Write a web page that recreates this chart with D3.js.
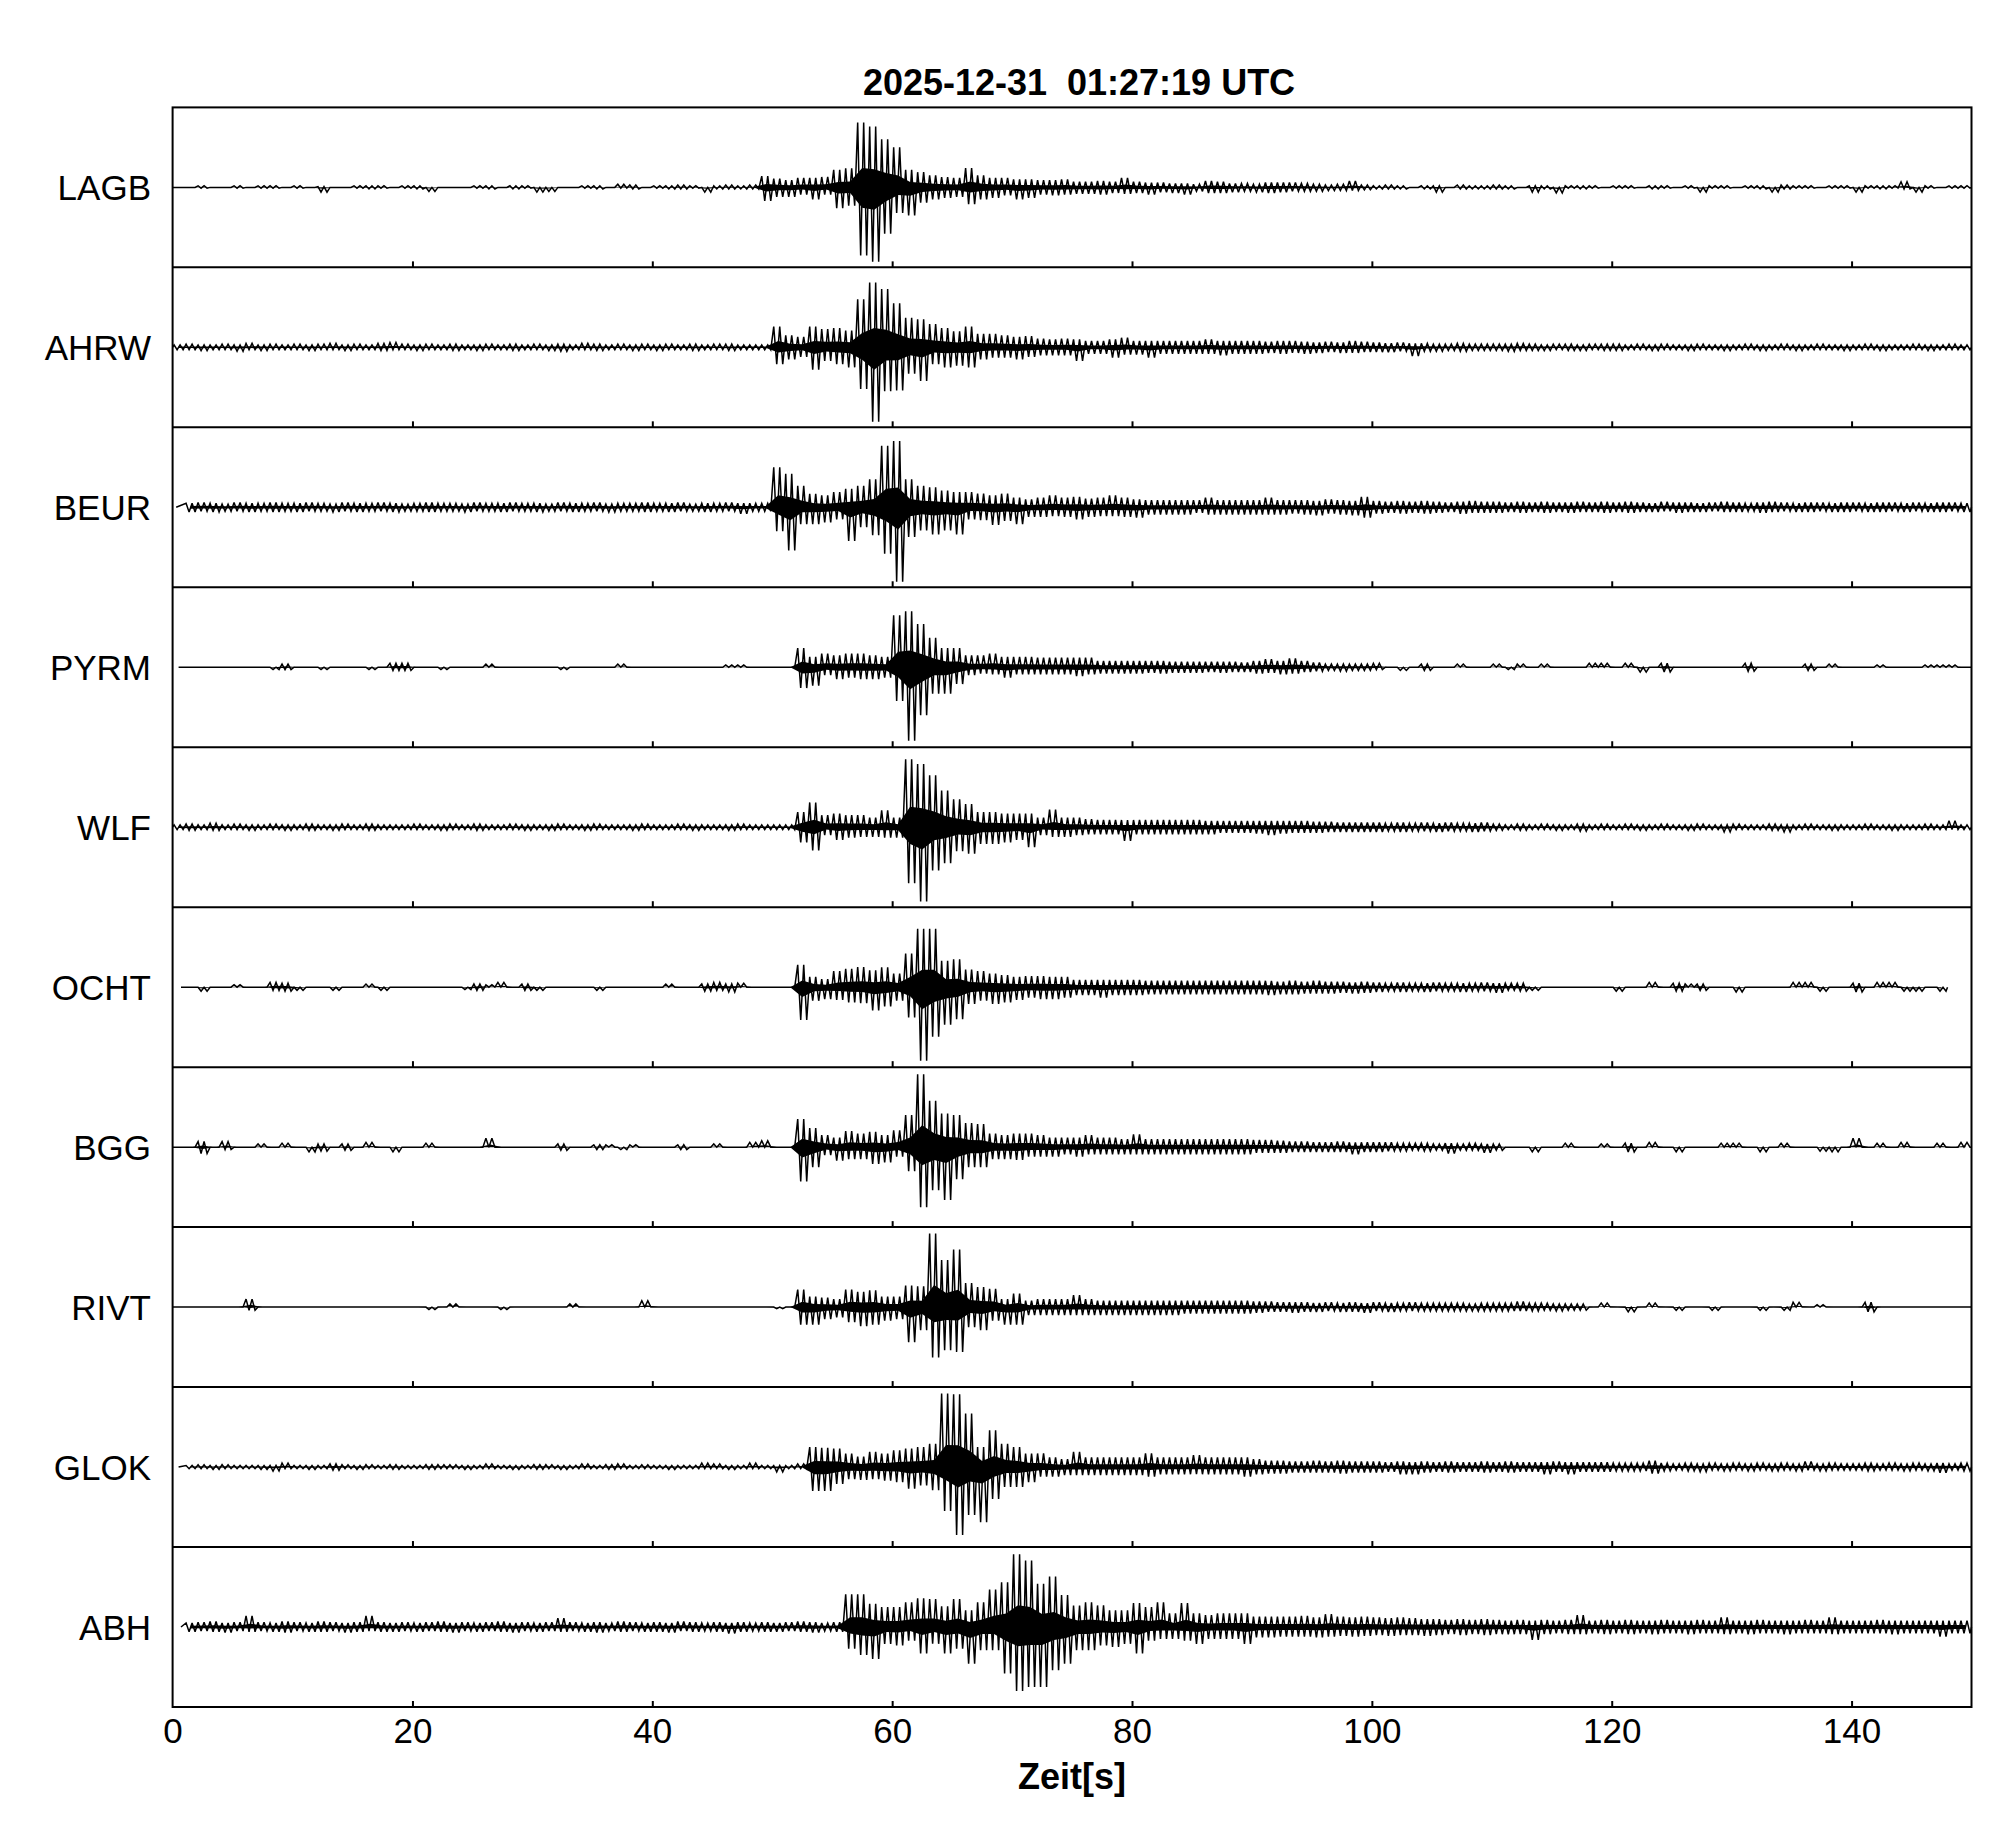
<!DOCTYPE html>
<html>
<head>
<meta charset="utf-8">
<script src="https://cdn.jsdelivr.net/npm/d3@7/dist/d3.min.js"></script>
<style>
html,body{margin:0;padding:0;background:#fff;}
svg{display:block;}
text{font-family:"Liberation Sans",Arial,Helvetica,sans-serif;fill:#000;}
</style>
</head>
<body>
<script>
// ---- data ----
const title = "2025-12-31  01:27:19 UTC";
const xLabel = "Zeit[s]";
const stations = ["LAGB","AHRW","BEUR","PYRM","WLF","OCHT","BGG","RIVT","GLOK","ABH"];
const xTicks = [0,20,40,60,80,100,120,140];
const traceStart = [0,0,0.3,0.5,0,0.7,0,0,0.5,0.7];   // seconds
const traceEnd   = [150,150,150,150,150,148,150,150,150,150];
// per-second peak amplitudes (percent of panel half-height), positive and negative

const LAGB_up = [0,0,2,0,0,2,0,2,2,0, 2,0,1,0,0,2,2,2,0,2, 2,0,0,0,0,2,2,0,2,2, 0,0,0,0,2,2,0,4,3,0,
 2,2,3,2,0,2,3,2,3,14, 11,9,12,12,13,22,24,81,76,60, 50,22,19,15,13,12,24,15,12,12, 10,10,9,9,10,7,7,8,7,12,
 7,6,6,5,5,4,8,7,5,5, 4,6,6,6,5,4,3,4,8,3, 2,3,2,0,2,2,0,3,2,2, 3,2,0,2,2,0,2,2,2,0,
 2,2,0,2,2,0,2,0,2,2, 0,2,2,0,3,2,2,0,2,2, 0,2,2,2,7,0,2,0,2,2];
const LAGB_dn = [0,0,-1,0,0,-1,0,-1,-1,0, -1,0,-6,0,0,-1,-2,-1,0,-1, -2,-5,0,0,0,-1,-2,0,-2,-1, -6,-5,0,0,-1,-2,0,-1,-2,0,
 -1,-2,-2,-1,-6,-2,-2,-2,-2,-17, -12,-12,-9,-15,-9,-26,-23,-85,-93,-58, -32,-35,-19,-15,-13,-12,-21,-15,-13,-10, -15,-13,-9,-10,-9,-8,-8,-9,-7,-8,
 -7,-9,-6,-7,-9,-5,-7,-7,-6,-5, -6,-7,-6,-5,-5,-5,-4,-4,-4,-3, -2,-2,-2,0,-2,-6,0,-2,-2,-2, -2,-2,0,-6,-2,-7,-1,-2,-1,0,
 -1,-1,0,-2,-1,0,-1,-6,-1,-1, 0,-1,-2,-6,-2,-1,-1,0,-1,-1, -6,-1,-2,-1,-2,-6,-1,0,-1,-1];

const AHRW_up = [3,4,3,3,4,3,5,3,4,3, 4,3,4,5,3,4,3,5,6,4, 3,4,3,4,3,3,4,3,4,3, 4,3,4,3,5,4,3,4,3,4,
 3,4,3,4,3,4,4,3,3,3, 26,15,13,26,23,24,21,60,81,73, 55,37,35,29,24,20,26,17,17,15, 13,14,11,10,11,10,8,8,10,12,
 8,8,8,8,8,8,10,8,8,8, 8,7,8,8,7,6,7,6,8,7, 6,5,6,5,5,4,4,5,4,4, 4,4,5,4,3,4,4,3,4,4,
 4,3,4,3,4,3,3,4,3,3, 3,4,3,3,4,3,3,4,3,3, 3,4,3,3,3,4,3,3,4,3];
const AHRW_dn = [-3,-3,-4,-3,-3,-5,-3,-4,-3,-3, -3,-4,-3,-3,-4,-3,-3,-4,-3,-3, -4,-3,-3,-4,-3,-4,-3,-3,-4,-3, -3,-4,-5,-3,-3,-4,-3,-3,-4,-3,
 -4,-3,-3,-4,-3,-3,-4,-3,-3,-3, -21,-15,-12,-28,-17,-21,-25,-52,-93,-55, -54,-33,-42,-21,-25,-23,-25,-15,-13,-13, -15,-12,-10,-10,-10,-17,-8,-8,-13,-9,
 -9,-13,-8,-8,-8,-8,-8,-10,-8,-8, -8,-7,-8,-7,-8,-7,-6,-7,-7,-6, -6,-6,-5,-11,-5,-5,-4,-5,-4,-4, -4,-5,-4,-4,-4,-3,-4,-4,-3,-4,
 -4,-3,-3,-4,-3,-3,-4,-3,-3,-4, -3,-3,-4,-3,-3,-4,-3,-3,-3,-4, -3,-3,-4,-3,-3,-3,-4,-3,-3,-3];

const BEUR_up = [4,5,6,5,4,6,5,5,6,5, 5,6,5,4,6,5,5,6,5,4, 5,6,5,5,4,6,5,5,6,5, 5,4,6,5,5,6,4,5,5,6,
 5,5,6,4,5,5,6,5,5,5, 50,42,27,17,15,19,23,27,35,77, 83,35,27,25,21,19,19,17,15,17, 12,10,12,15,12,13,11,12,15,12,
 10,9,9,9,9,9,12,9,9,9, 9,12,9,9,9,8,10,9,8,13, 8,7,8,7,8,7,6,7,8,7, 7,6,7,6,7,6,6,7,6,7,
 6,7,6,5,7,6,6,5,6,7, 6,5,6,7,6,5,6,6,5,6, 6,5,6,6,5,6,5,6,6,5];
const BEUR_dn = [-5,-6,-5,-6,-5,-5,-6,-5,-6,-5, -6,-5,-5,-6,-5,-6,-5,-5,-6,-5, -5,-6,-5,-5,-6,-5,-5,-6,-5,-5, -6,-5,-5,-6,-5,-5,-6,-5,-5,-6,
 -5,-6,-5,-5,-6,-5,-5,-8,-5,-5, -30,-54,-21,-21,-19,-15,-42,-25,-35,-58, -93,-37,-29,-34,-29,-34,-15,-16,-22,-17, -21,-12,-12,-11,-12,-15,-12,-11,-11,-12,
 -13,-9,-9,-9,-9,-7,-9,-9,-9,-9, -9,-9,-9,-8,-9,-10,-8,-9,-10,-13, -8,-7,-8,-7,-8,-7,-6,-8,-7,-7, -7,-6,-7,-6,-7,-6,-7,-6,-6,-7,
 -6,-7,-6,-6,-5,-7,-6,-6,-5,-6, -6,-5,-7,-6,-5,-6,-6,-5,-6,-6, -5,-6,-6,-5,-6,-5,-6,-6,-5,-6];

const PYRM_up = [0,0,0,0,0,0,0,0,0,4, 0,0,0,0,0,0,0,0,5,5, 0,0,0,0,0,0,4,0,0,0, 0,0,0,0,0,0,0,4,0,0,
 0,0,0,0,0,0,3,3,0,0, 0,0,24,13,17,15,17,17,15,13, 65,70,54,37,24,24,15,15,17,13, 13,13,12,12,12,12,12,8,8,8,
 8,8,8,7,7,7,7,7,7,6, 8,10,8,11,8,6,4,4,4,4, 5,0,0,0,4,0,0,4,0,0, 4,0,4,0,4,0,0,0,5,5,
 0,5,0,0,5,0,0,0,0,0, 0,5,0,0,0,0,4,0,4,0, 0,0,3,0,0,0,3,3,3,0];
const PYRM_dn = [0,0,0,0,0,0,0,0,-3,-3, 0,0,-3,0,0,0,-3,0,-4,-4, 0,0,-3,0,0,0,0,0,0,0, 0,0,-3,0,0,0,0,0,0,0,
 0,0,0,0,0,0,0,0,0,0, 0,0,-26,-23,-10,-15,-13,-15,-15,-13, -42,-92,-60,-33,-33,-21,-10,-8,-9,-13, -9,-9,-9,-9,-9,-11,-9,-8,-8,-8,
 -8,-7,-8,-7,-7,-7,-6,-7,-6,-6, -8,-7,-9,-8,-6,-5,-4,-5,-4,-4, -3,0,-4,0,-4,0,0,0,0,0, 0,-3,0,0,0,0,0,0,0,0,
 0,0,-6,0,-6,0,0,0,0,0, 0,-5,0,0,0,0,-4,0,0,0, 0,0,0,0,0,0,0,0,0,0];

const WLF_up = [3,4,3,5,3,4,3,3,4,3, 3,4,3,3,4,3,4,3,3,3, 4,3,3,4,3,4,3,3,4,3, 3,3,4,3,3,4,3,3,3,4,
 3,3,4,3,3,3,3,4,3,3, 3,3,19,31,15,17,15,15,12,21, 12,85,79,65,46,35,29,19,19,17, 17,17,12,22,12,12,10,9,9,9,
 9,9,9,9,9,9,8,8,8,8, 8,8,8,8,8,7,7,6,6,6, 6,5,6,5,6,5,6,5,5,6, 4,3,4,3,4,3,3,4,3,4,
 3,4,3,3,4,3,3,4,3,3, 4,3,3,4,3,3,4,3,3,3, 3,4,3,3,3,3,4,3,8,3];
const WLF_dn = [-3,-4,-3,-4,-3,-3,-4,-3,-3,-4, -3,-4,-3,-4,-3,-3,-4,-3,-3,-3, -3,-3,-4,-3,-3,-4,-3,-3,-3,-4, -3,-4,-3,-3,-4,-3,-3,-3,-4,-3,
 -3,-3,-3,-4,-3,-3,-4,-3,-3,-3, -3,-3,-19,-29,-10,-16,-13,-12,-12,-13, -13,-70,-93,-54,-45,-30,-33,-21,-21,-19, -16,-25,-10,-12,-12,-10,-9,-9,-9,-17,
 -9,-9,-9,-9,-9,-9,-9,-7,-7,-7, -8,-10,-8,-7,-7,-7,-6,-6,-6,-6, -6,-5,-6,-5,-5,-6,-5,-5,-6,-5, -4,-3,-4,-3,-3,-4,-3,-5,-3,-3,
 -3,-3,-4,-3,-3,-3,-4,-3,-3,-6, -3,-3,-3,-4,-6,-3,-3,-3,-4,-3, -3,-3,-3,-4,-3,-3,-3,-3,-3,-3];

const OCHT_up = [0,0,0,0,0,3,0,0,6,5, 0,0,0,0,0,0,4,0,0,0, 0,0,0,0,0,4,3,6,0,4, 0,0,0,0,0,0,0,0,0,0,
 0,4,0,0,4,6,4,5,0,0, 0,0,28,13,10,20,23,25,21,25, 17,42,73,73,33,35,22,20,17,15, 13,14,14,13,13,9,9,9,9,9,
 9,8,8,8,8,8,8,8,8,8, 8,8,7,8,7,8,7,7,6,7, 6,5,6,5,5,6,5,5,5,6, 5,5,5,0,0,0,0,0,0,0,
 0,0,0,6,0,5,4,4,0,0, 0,0,0,0,0,6,6,0,0,0, 5,0,6,6,0,0,0,0,0,0];
const OCHT_dn = [0,0,-5,0,0,0,0,0,-4,-5, -4,0,0,-4,0,0,0,-4,0,0, 0,0,0,0,-3,-4,0,0,0,-4, -4,0,0,0,0,-4,0,0,0,0,
 0,0,0,0,-5,-4,-6,0,0,0, 0,0,-41,-17,-15,-16,-19,-20,-29,-24, -17,-38,-92,-62,-47,-40,-21,-17,-21,-19, -16,-13,-15,-15,-13,-10,-10,-13,-10,-10,
 -10,-9,-9,-9,-9,-9,-9,-9,-9,-9, -9,-10,-9,-9,-8,-8,-8,-7,-8,-7, -6,-5,-6,-5,-6,-5,-5,-6,-5,-5, -7,-4,-5,-4,0,0,0,0,0,0,
 -5,0,0,0,0,-5,0,-4,0,0, -6,0,0,0,0,0,0,-5,0,0, -6,0,0,0,-5,-5,0,-5,0,0];

const BGG_up = [0,0,7,0,7,0,0,4,0,5, 0,0,4,0,4,0,6,0,0,0, 0,5,0,0,0,0,11,0,0,0, 0,0,4,0,0,3,3,0,3,0,
 0,0,3,0,0,4,0,0,6,8, 0,0,35,24,15,12,20,17,19,15, 21,40,91,58,42,40,30,29,17,15, 17,17,15,12,12,12,15,12,12,10,
 16,10,10,10,10,10,10,10,10,10, 9,9,8,7,7,6,6,7,6,6, 6,6,5,5,5,4,5,4,5,4, 4,0,0,0,0,0,5,0,0,4,
 0,5,0,6,0,0,0,0,0,5, 5,0,0,0,5,0,0,0,0,0, 11,0,5,0,6,0,0,5,0,6];
const BGG_dn = [0,0,-8,0,-3,0,0,0,0,0, 0,-6,-5,0,-4,0,0,0,-6,0, 0,0,0,0,0,0,0,0,0,0, 0,0,-4,0,0,-3,0,-3,0,0,
 0,0,-3,0,0,0,0,0,0,0, 0,0,-43,-25,-10,-17,-15,-15,-21,-19, -12,-30,-75,-54,-66,-40,-25,-25,-15,-15, -16,-12,-12,-12,-9,-12,-9,-9,-9,-9,
 -9,-9,-9,-9,-9,-9,-9,-9,-9,-9, -7,-7,-7,-6,-6,-6,-6,-6,-9,-6, -6,-5,-5,-4,-5,-4,-8,-4,-4,-7, -4,0,0,-6,0,0,0,0,0,0,
 0,-6,0,0,0,-6,0,0,0,0, 0,0,-6,0,0,0,0,-5,-6,0, 0,0,0,0,0,0,0,0,0,0];

const RIVT_up = [0,0,0,0,0,0,10,0,0,0, 0,0,0,0,0,0,0,0,0,0, 0,0,0,4,0,0,0,0,0,0, 0,0,0,4,0,0,0,0,0,8,
 0,0,0,0,0,0,0,0,0,0, 0,0,22,13,12,10,22,19,21,13, 13,27,26,92,59,72,30,25,23,10, 17,8,10,10,10,15,10,8,8,8,
 8,8,8,8,8,8,8,8,8,8, 7,7,6,6,6,5,6,5,6,5, 6,5,5,6,5,5,5,5,4,5, 5,5,7,5,5,4,4,4,0,5,
 0,0,0,5,0,0,0,0,0,0, 0,0,0,0,0,6,0,3,0,0, 0,6,0,0,0,0,0,0,0,0];
const RIVT_dn = [0,0,0,0,0,0,-4,0,0,0, 0,0,0,0,0,0,0,0,0,0, 0,-3,0,0,0,0,0,-3,0,0, 0,0,0,0,0,0,0,0,0,0,
 0,0,0,0,0,0,0,0,0,0, -2,0,-22,-22,-15,-13,-19,-24,-22,-17, -15,-44,-29,-63,-54,-56,-25,-29,-17,-22, -22,-10,-10,-10,-10,-10,-10,-10,-10,-10,
 -10,-10,-10,-10,-8,-8,-8,-8,-8,-8, -7,-6,-6,-7,-6,-6,-5,-6,-6,-7, -5,-6,-5,-5,-5,-5,-5,-5,-5,-5, -5,-5,-5,-5,-4,-5,-4,-4,0,0,
 0,-6,0,0,0,-4,0,0,-4,0, 0,0,-4,0,-4,0,0,0,0,0, 0,-6,0,0,0,0,0,0,0,0];

const GLOK_up = [0,2,3,2,3,2,2,2,2,5, 2,2,2,4,3,2,3,2,3,2, 2,3,3,3,2,2,4,2,2,2, 3,3,2,2,4,2,3,4,2,3,
 2,2,2,2,5,4,2,2,5,2, 2,2,4,25,24,23,17,13,19,17, 21,23,25,29,92,91,67,25,46,29, 25,17,17,12,10,19,12,12,12,12,
 12,17,12,12,12,15,12,12,12,12, 10,8,8,7,7,8,7,8,7,7, 7,6,7,6,7,6,7,6,6,7, 6,7,6,6,6,7,6,6,6,6,
 5,5,5,8,5,4,5,4,5,4, 5,4,5,4,5,4,7,4,5,4, 4,5,4,5,4,5,4,5,4,5];
const GLOK_dn = [0,-2,-2,-3,-2,-2,-2,-3,-5,-2, -2,-3,-2,-4,-2,-3,-2,-2,-3,-2, -2,-3,-2,-2,-3,-2,-2,-2,-3,-2, -3,-2,-3,-2,-2,-2,-3,-2,-2,-2,
 -2,-3,-2,-2,-2,-2,-3,-2,-2,-2, -6,-2,-2,-30,-30,-21,-15,-16,-15,-17, -19,-27,-23,-29,-55,-85,-60,-69,-40,-25, -25,-19,-12,-12,-10,-10,-10,-10,-10,-10,
 -10,-12,-9,-9,-9,-9,-9,-9,-9,-12, -9,-8,-8,-7,-7,-7,-7,-8,-7,-7, -7,-6,-9,-9,-7,-6,-7,-6,-6,-7, -6,-7,-6,-6,-9,-6,-9,-6,-6,-6,
 -5,-5,-5,-8,-5,-4,-5,-6,-4,-5, -4,-5,-4,-5,-4,-5,-4,-5,-4,-4, -4,-5,-4,-4,-5,-4,-5,-7,-4,-5];

const ABH_up = [0,5,6,7,5,6,14,6,5,7, 6,5,7,6,5,6,14,6,5,6, 5,6,7,5,6,5,6,7,5,6, 5,6,11,6,5,6,5,7,6,5,
 6,5,7,6,5,6,5,6,5,6, 5,6,7,6,5,6,41,41,29,25, 25,31,36,35,26,35,21,31,47,56, 91,83,54,63,40,27,31,27,21,21,
 30,25,31,17,30,17,15,17,17,17, 13,13,13,13,14,12,16,13,12,13, 12,11,12,11,10,10,9,10,9,10, 9,8,9,8,9,8,9,15,8,9,
 8,9,8,8,9,8,8,9,8,12, 8,8,9,8,8,8,9,8,12,8, 8,8,9,8,8,8,8,8,8,8];
const ABH_dn = [0,-6,-5,-6,-7,-5,-6,-5,-6,-7, -5,-6,-6,-5,-7,-6,-5,-6,-6,-5, -6,-5,-6,-7,-5,-6,-5,-6,-7,-5, -6,-5,-6,-5,-6,-7,-5,-6,-5,-6,
 -6,-7,-5,-6,-5,-6,-8,-6,-5,-6, -6,-5,-6,-7,-5,-6,-27,-35,-40,-21, -23,-17,-33,-21,-33,-27,-46,-29,-29,-58, -80,-75,-75,-54,-46,-29,-29,-23,-25,-21,
 -33,-17,-15,-15,-17,-21,-15,-15,-15,-21, -13,-13,-12,-12,-12,-13,-12,-11,-12,-11, -10,-11,-10,-10,-11,-10,-9,-10,-9,-10, -9,-9,-9,-16,-9,-8,-9,-9,-8,-9,
 -8,-9,-8,-9,-8,-8,-9,-8,-8,-9, -8,-9,-8,-8,-9,-8,-8,-8,-9,-8, -8,-8,-8,-9,-8,-8,-8,-12,-8,-8];

const peaksUp = [LAGB_up,AHRW_up,BEUR_up,PYRM_up,WLF_up,OCHT_up,BGG_up,RIVT_up,GLOK_up,ABH_up];
const peaksDn = [LAGB_dn,AHRW_dn,BEUR_dn,PYRM_dn,WLF_dn,OCHT_dn,BGG_dn,RIVT_dn,GLOK_dn,ABH_dn];

// ---- layout ----
const W = 2005, H = 1841;
const L = 172.6, R = 1971.5, T = 107.4, B = 1707;
const fs = 35;
const coreFrac = 0.3;   // drawing style: dense dark core of the trace band

const svg = d3.select("body").append("svg").attr("width", W).attr("height", H);
svg.append("rect").attr("width", W).attr("height", H).attr("fill", "#fff");

const x = d3.scaleLinear().domain([0,150]).range([L,R]);
const band = d3.scaleBand().domain(stations).range([T,B]).padding(0);

// traces
stations.forEach((s, k) => {
  const top = band(s), bot = top + band.bandwidth();
  const y = d3.scaleLinear().domain([-100,100]).range([bot, top]);
  const up = peaksUp[k], dn = peaksDn[k];
  const t0 = traceStart[k], t1 = traceEnd[k];
  const pts = [[t0, 0]];
  const bins = [];
  for (let i = 0; i < up.length; i++) {
    if (i + 0.125 >= t0 && i + 0.875 <= t1) {
      // min/max of each second drawn as a dense wiggle
      pts.push([i + 0.125, up[i]]);
      pts.push([i + 0.375, dn[i]]);
      pts.push([i + 0.625, up[i]]);
      pts.push([i + 0.875, dn[i]]);
      bins.push(i);
    }
  }
  pts.push([t1, 0]);

  // dense core of the band
  const area = d3.area()
    .x(i => x(i + 0.5))
    .y0(i => y(dn[i] * coreFrac))
    .y1(i => y(up[i] * coreFrac));
  svg.append("path").attr("d", area(bins)).attr("fill", "#000");

  const line = d3.line().x(d => x(d[0])).y(d => y(d[1]));
  svg.append("path").attr("d", line(pts))
    .attr("fill", "none").attr("stroke", "#000")
    .attr("stroke-width", 1.5).attr("stroke-linejoin", "miter").attr("stroke-miterlimit", 3);

  // station label
  svg.append("text").attr("x", 151).attr("y", y(0) + fs*0.36)
    .attr("text-anchor", "end").style("font-size", fs + "px").text(s);

  // inner ticks at panel bottom (pointing up)
  const ax = d3.axisBottom(x).tickValues(xTicks.filter(v => v > 0)).tickSize(-6).tickFormat("");
  const g = svg.append("g").attr("transform", `translate(0,${bot})`).call(ax);
  g.select(".domain").remove();
  g.selectAll("line").attr("stroke", "#000").attr("stroke-width", 2);
});

// panel separators
stations.slice(1).forEach(s => {
  svg.append("line").attr("x1", L).attr("x2", R).attr("y1", band(s)).attr("y2", band(s))
    .attr("stroke", "#000").attr("stroke-width", 2);
});
// frame
svg.append("rect").attr("x", L).attr("y", T).attr("width", R - L).attr("height", B - T)
  .attr("fill", "none").attr("stroke", "#000").attr("stroke-width", 2);

// bottom axis labels
const axB = d3.axisBottom(x).tickValues(xTicks).tickSize(0).tickPadding(10);
const gb = svg.append("g").attr("transform", `translate(0,${B})`).call(axB);
gb.select(".domain").remove();
gb.selectAll("text").style("font-size", fs + "px")
  .style("font-family", '"Liberation Sans",Arial,sans-serif').attr("fill", "#000")
  .attr("dy", null).attr("y", 36);

// title and axis label
svg.append("text").attr("x", 1079).attr("y", 95).attr("text-anchor", "middle")
  .style("font-size", "36px").style("font-weight", "bold").style("white-space", "pre").text(title);
svg.append("text").attr("x", (L + R) / 2).attr("y", 1789).attr("text-anchor", "middle")
  .style("font-size", "36px").style("font-weight", "bold").text(xLabel);
</script>
</body>
</html>
